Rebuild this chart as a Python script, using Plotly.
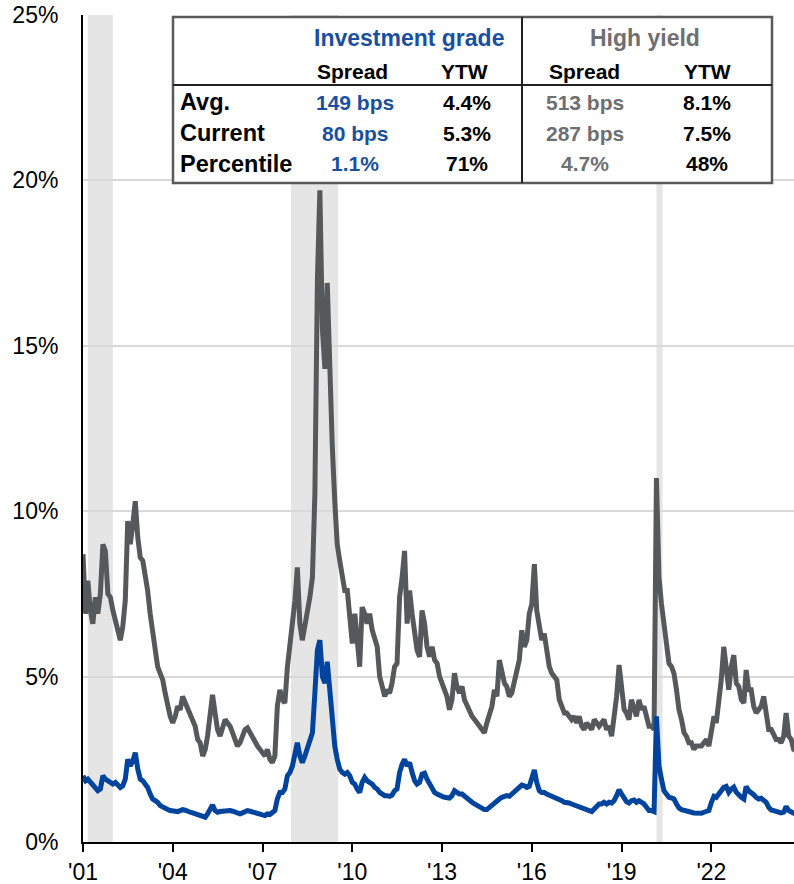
import plotly.graph_objects as go
import pandas as pd

# monthly option-adjusted spreads (%), Jan 2001 - Nov 2024
hy_spread = [
    8.7, 6.9, 7.9, 7.0, 6.6, 7.4, 6.9, 7.5, 9.0, 8.8, 7.5, 7.4,        # 2001
    7.0, 6.7, 6.3, 6.1, 6.5, 7.3, 9.7, 9.0, 9.6, 10.3, 9.2, 8.6,       # 2002
    8.5, 8.1, 7.6, 6.9, 6.4, 5.9, 5.3, 5.1, 4.9, 4.5, 4.1, 3.8,        # 2003
    3.6, 3.8, 4.1, 4.0, 4.4, 4.2, 4.0, 3.9, 3.7, 3.5, 3.1, 3.0,        # 2004
    2.6, 2.8, 3.2, 4.0, 4.45, 3.9, 3.4, 3.2, 3.5, 3.7, 3.6, 3.5,       # 2005
    3.3, 3.1, 2.9, 3.0, 3.2, 3.4, 3.45, 3.3, 3.2, 3.0, 2.9, 2.8,       # 2006
    2.7, 2.6, 2.8, 2.5, 2.4, 2.6, 4.1, 4.6, 4.3, 4.2, 5.3, 6.0,        # 2007
    6.4, 7.3, 8.3, 6.6, 6.1, 6.5, 7.0, 7.4, 8.0, 10.5, 17.0, 19.7,     # 2008
    15.5, 14.3, 16.9, 14.0, 12.0, 10.3, 9.0, 8.5, 8.0, 7.6, 7.6, 6.6,  # 2009
    6.0, 6.9, 5.9, 5.3, 7.1, 6.9, 6.6, 6.9, 6.4, 6.2, 5.9, 5.0,        # 2010
    4.7, 4.4, 4.6, 4.5, 4.8, 5.3, 5.4, 7.4, 8.0, 8.8, 6.6, 7.6,        # 2011
    6.9, 6.2, 5.8, 5.6, 7.0, 6.6, 5.9, 5.6, 5.9, 5.5, 5.4, 5.0,        # 2012
    4.8, 4.5, 4.4, 4.0, 4.3, 5.1, 4.7, 4.5, 4.7, 4.3, 4.1, 4.0,        # 2013
    3.8, 3.7, 3.6, 3.5, 3.4, 3.3, 3.6, 3.9, 4.1, 4.6, 4.4, 5.5,        # 2014
    5.1, 4.8, 4.7, 4.4, 4.5, 4.9, 5.3, 5.5, 6.4, 5.9, 6.1, 6.9,        # 2015
    7.2, 8.4, 7.0, 6.4, 6.1, 6.3, 5.8, 5.3, 5.1, 5.0, 4.9, 4.3,        # 2016
    4.1, 3.9, 3.9, 3.8, 3.7, 3.8, 3.6, 3.8, 3.5, 3.4, 3.6, 3.5,        # 2017
    3.4, 3.7, 3.6, 3.5, 3.6, 3.7, 3.4, 3.5, 3.2, 3.8, 4.4, 5.35,       # 2018
    4.5, 4.0, 3.9, 3.7, 4.3, 4.0, 3.8, 4.3, 4.0, 4.1, 3.8, 3.5,        # 2019
    3.5, 3.4, 11.0, 8.0, 7.2, 6.5, 6.0, 5.4, 5.3, 5.1, 4.6, 4.0,       # 2020
    3.7, 3.3, 3.2, 3.0, 3.0, 2.8, 2.9, 2.9, 2.9, 3.0, 3.1, 2.9,        # 2021
    3.4, 3.8, 3.6, 4.2, 4.9, 5.9, 5.2, 4.6, 5.3, 5.65, 4.8, 4.7,       # 2022
    4.3, 4.2, 5.2, 4.6, 4.6, 4.1, 3.9, 4.0, 4.1, 4.4, 3.9, 3.4,        # 2023
    3.4, 3.2, 3.1, 3.1, 3.0, 3.2, 3.9, 3.2, 3.1, 2.8, 2.75,            # 2024
]

ig_spread = [
    2.0, 1.85, 1.9, 1.8, 1.7, 1.6, 1.55, 1.6, 2.0, 1.9, 1.85, 1.8,          # 2001
    1.75, 1.8, 1.7, 1.65, 1.7, 1.9, 2.5, 2.3, 2.45, 2.7, 2.2, 1.9,          # 2002
    1.85, 1.75, 1.65, 1.45, 1.3, 1.25, 1.2, 1.1, 1.05, 1.0, 0.98, 0.95,     # 2003
    0.92, 0.93, 0.92, 0.95, 0.98, 0.96, 0.92, 0.9, 0.88, 0.86, 0.84, 0.8,   # 2004
    0.77, 0.75, 0.85, 1.0, 1.12, 0.95, 0.9, 0.92, 0.93, 0.95, 0.97, 0.95,   # 2005
    0.93, 0.9, 0.86, 0.85, 0.88, 0.92, 0.95, 0.93, 0.9, 0.88, 0.86, 0.84,   # 2006
    0.82, 0.8, 0.85, 0.83, 0.88, 0.95, 1.3, 1.5, 1.5, 1.6, 2.0, 2.1,        # 2007
    2.3, 2.7, 3.0, 2.6, 2.4, 2.6, 2.8, 3.0, 3.3, 4.5, 5.8, 6.1,            # 2008
    5.0, 4.8, 5.45, 4.6, 3.6, 2.9, 2.5, 2.2, 2.1, 2.05, 2.1, 2.0,          # 2009
    1.8, 1.75, 1.6, 1.5, 1.8, 1.95, 1.85, 1.8, 1.75, 1.65, 1.6, 1.5,        # 2010
    1.45, 1.4, 1.4, 1.38, 1.42, 1.55, 1.6, 2.1, 2.35, 2.5, 2.3, 2.4,        # 2011
    2.1, 1.85, 1.75, 1.8, 2.05, 2.08, 1.9, 1.75, 1.6, 1.5, 1.45, 1.4,       # 2012
    1.38, 1.35, 1.35, 1.33, 1.4, 1.55, 1.5, 1.45, 1.45, 1.38, 1.3, 1.25,    # 2013
    1.2, 1.15, 1.1, 1.05, 1.0, 0.98, 0.98, 1.05, 1.1, 1.2, 1.25, 1.3,       # 2014
    1.35, 1.38, 1.4, 1.38, 1.45, 1.55, 1.58, 1.65, 1.72, 1.7, 1.65, 1.68,   # 2015
    1.9, 2.18, 1.8, 1.55, 1.5, 1.5, 1.45, 1.42, 1.4, 1.35, 1.32, 1.28,      # 2016
    1.25, 1.2, 1.2, 1.18, 1.15, 1.12, 1.08, 1.08, 1.05, 1.0, 0.98, 0.95,    # 2017
    0.92, 1.0, 1.1, 1.15, 1.15, 1.2, 1.15, 1.2, 1.18, 1.25, 1.4, 1.58,      # 2018
    1.45, 1.3, 1.22, 1.18, 1.25, 1.27, 1.2, 1.25, 1.2, 1.15, 1.05, 0.95,    # 2019
    0.95, 0.92, 3.8, 2.3, 1.9, 1.55, 1.45, 1.35, 1.33, 1.3, 1.15, 1.03,     # 2020
    0.98, 0.95, 0.93, 0.92, 0.9, 0.88, 0.87, 0.88, 0.87, 0.9, 0.92, 0.95,   # 2021
    1.2, 1.38, 1.35, 1.45, 1.55, 1.65, 1.68, 1.5, 1.6, 1.66, 1.5, 1.4,      # 2022
    1.35, 1.3, 1.68, 1.55, 1.5, 1.43, 1.35, 1.3, 1.32, 1.27, 1.2, 1.05,     # 2023
    0.97, 0.95, 0.92, 0.9, 0.88, 0.9, 1.07, 0.95, 0.9, 0.87, 0.85,          # 2024
]

dates = pd.date_range("2001-01-01", periods=len(hy_spread), freq="MS")

recessions = [
    ("2001-03-01", "2001-12-31"),
    ("2007-12-15", "2009-07-10"),
    ("2020-03-01", "2020-05-15"),
]

tick_years = [2001, 2004, 2007, 2010, 2013, 2016, 2019, 2022]
tick_labels = ["'01", "'04", "'07", "'10", "'13", "'16", "'19", "'22"]
y_ticks = [0, 5, 10, 15, 20, 25]
y_tick_labels = ["0%", "5%", "10%", "15%", "20%", "25%"]

# summary table
row_labels = ["Avg.", "Current", "Percentile"]
ig_spread_stats = ["149 bps", "80 bps", "1.1%"]
ig_ytw_stats = ["4.4%", "5.3%", "71%"]
hy_spread_stats = ["513 bps", "287 bps", "4.7%"]
hy_ytw_stats = ["8.1%", "7.5%", "48%"]

IG_BLUE = "#00449E"
HY_GREY = "#55595C"
IG_TEXT = "#1A4FA0"
HY_TEXT = "#6E6F72"

W, H = 794, 884
L, R, T, B = 83, 0, 15, 42


def px(x):
    # page pixel -> paper x
    return (x - L) / (W - L - R)


def py(y):
    # page pixel -> paper y
    return (H - B - y) / (H - T - B)


fig = go.Figure()

fig.add_trace(go.Scatter(
    x=dates, y=hy_spread, mode="lines",
    line=dict(color=HY_GREY, width=5), name="High yield",
))
fig.add_trace(go.Scatter(
    x=dates, y=ig_spread, mode="lines",
    line=dict(color=IG_BLUE, width=5), name="Investment grade",
))

shapes = []
for start, end in recessions:
    shapes.append(dict(
        type="rect", xref="x", yref="paper", x0=start, x1=end, y0=0, y1=1,
        fillcolor="#E5E5E5", line=dict(width=0), layer="between",
    ))

# table frame
shapes.append(dict(
    type="rect", xref="paper", yref="paper",
    x0=px(173), x1=px(772), y0=py(183), y1=py(17),
    fillcolor="white", line=dict(color="#5A5A5A", width=2.5), layer="above",
))
shapes.append(dict(
    type="line", xref="paper", yref="paper",
    x0=px(173), x1=px(772), y0=py(85), y1=py(85),
    line=dict(color="#222222", width=2), layer="above",
))
shapes.append(dict(
    type="line", xref="paper", yref="paper",
    x0=px(522), x1=px(522), y0=py(183), y1=py(17),
    line=dict(color="#222222", width=2), layer="above",
))

annotations = []


def add_text(text, x, y, color="black", size=21, anchor="center"):
    annotations.append(dict(
        text=f"<b>{text}</b>", x=px(x), y=py(y), xref="paper", yref="paper",
        xanchor=anchor, yanchor="middle", showarrow=False,
        font=dict(size=size, color=color),
    ))


add_text("Investment grade", 409, 38, IG_TEXT, 23)
add_text("High yield", 645, 38, HY_TEXT, 23)
add_text("Spread", 352, 71)
add_text("YTW", 465, 71)
add_text("Spread", 584, 71)
add_text("YTW", 707, 71)

row_y = [102, 133, 164]
for i, ry in enumerate(row_y):
    add_text(row_labels[i], 178, ry, size=23.5, anchor="left")
    add_text(ig_spread_stats[i], 355, ry, IG_TEXT)
    add_text(ig_ytw_stats[i], 467, ry)
    add_text(hy_spread_stats[i], 585, ry, HY_TEXT)
    add_text(hy_ytw_stats[i], 707, ry)

fig.update_layout(
    width=W, height=H,
    margin=dict(l=L, r=R, t=T, b=B, autoexpand=False),
    plot_bgcolor="white", paper_bgcolor="white",
    font=dict(family="Liberation Sans, Arial, sans-serif", color="black"),
    showlegend=False,
    shapes=shapes,
    annotations=annotations,
    xaxis=dict(
        type="date",
        range=["2001-01-01", "2024-10-05"],
        tickvals=[f"{y}-01-01" for y in tick_years],
        ticktext=tick_labels,
        ticks="outside", ticklen=8, tickwidth=2, tickcolor="black",
        showline=True, linecolor="black", linewidth=2,
        showgrid=False, zeroline=False,
        tickfont=dict(size=23, color="black"),
        ticklabeloverflow="allow",
    ),
    yaxis=dict(
        range=[0, 25],
        tickvals=y_ticks, ticktext=y_tick_labels,
        showgrid=True, gridcolor="#D9D9D9", gridwidth=1.5,
        showline=True, linecolor="black", linewidth=2,
        zeroline=False, ticks="",
        ticklabelstandoff=18,
        ticklabeloverflow="allow",
        tickfont=dict(size=23, color="black"),
    ),
)

# drop the default 8px page margin so the figure fills the window exactly
fig.write_html(
    "out.html",
    config={"displayModeBar": False},
    post_script="document.body.style.margin = '0';",
)
